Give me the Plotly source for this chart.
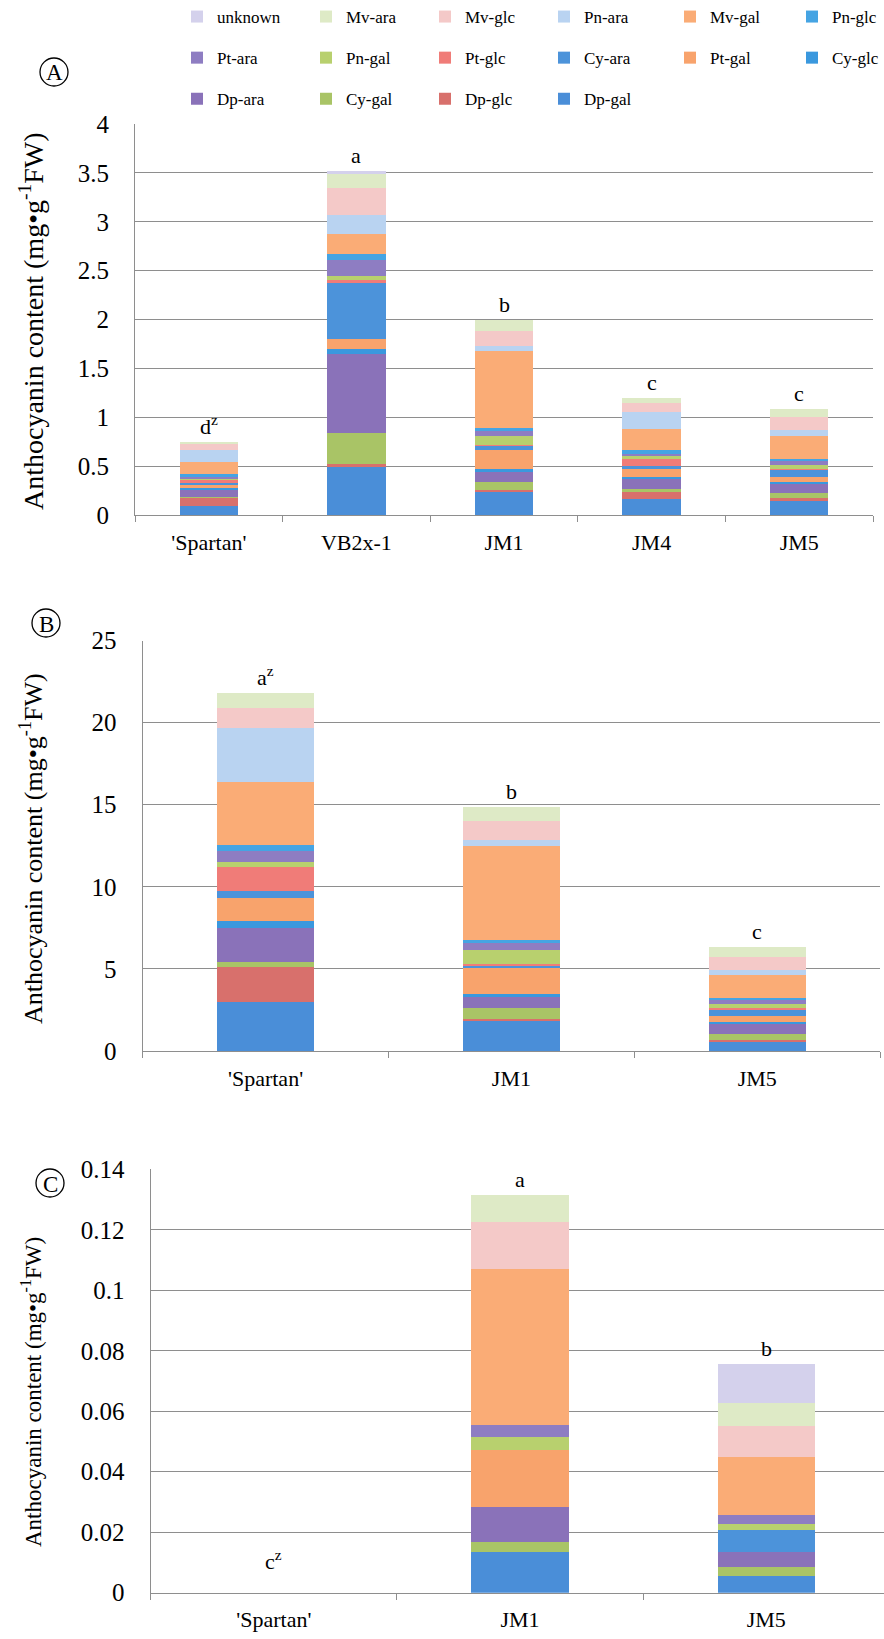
import plotly.graph_objects as go

# ---------------- data ----------------
series = ["Dp-gal", "Dp-glc", "Cy-gal", "Dp-ara", "Cy-glc", "Pt-gal", "Cy-ara", "Pt-glc",
          "Pn-gal", "Pt-ara", "Pn-glc", "Mv-gal", "Pn-ara", "Mv-glc", "Mv-ara", "unknown"]
colors = ["#4A8ED8", "#D8706C", "#A9C466", "#8A72B9", "#3A98DE", "#F8A36C", "#4C93DA", "#F07C78",
          "#B8D06E", "#8E7DC2", "#45A4E3", "#FAAC76", "#B9D3F1", "#F4C9C8", "#DEEAC6", "#D4D1EC"]

cats_A = ["'Spartan'", "VB2x-1", "JM1", "JM4", "JM5"]
vals_A = {
    "Dp-gal":  [0.092, 0.500, 0.239, 0.160, 0.147],
    "Dp-glc":  [0.085, 0.020, 0.017, 0.078, 0.024],
    "Cy-gal":  [0.005, 0.320, 0.085, 0.024, 0.051],
    "Dp-ara":  [0.075, 0.810, 0.102, 0.109, 0.095],
    "Cy-glc":  [0.020, 0.050, 0.024, 0.020, 0.024],
    "Pt-gal":  [0.034, 0.100, 0.198, 0.075, 0.051],
    "Cy-ara":  [0.017, 0.570, 0.044, 0.034, 0.075],
    "Pt-glc":  [0.037, 0.034, 0.005, 0.082, 0.005],
    "Pn-gal":  [0.005, 0.044, 0.099, 0.020, 0.038],
    "Pt-ara":  [0.027, 0.160, 0.044, 0.027, 0.041],
    "Pn-glc":  [0.020, 0.060, 0.034, 0.034, 0.027],
    "Mv-gal":  [0.126, 0.205, 0.784, 0.220, 0.228],
    "Pn-ara":  [0.120, 0.198, 0.058, 0.170, 0.061],
    "Mv-glc":  [0.068, 0.270, 0.146, 0.092, 0.136],
    "Mv-ara":  [0.012, 0.147, 0.120, 0.055, 0.085],
    "unknown": [0.000, 0.027, 0.000, 0.000, 0.000],
}
letters_A = ["d<sup>z</sup>", "a", "b", "c", "c"]

cats_B = ["'Spartan'", "JM1", "JM5"]
vals_B = {
    "Dp-gal":  [3.01, 1.89, 0.61],
    "Dp-glc":  [2.13, 0.06, 0.06],
    "Cy-gal":  [0.30, 0.65, 0.35],
    "Dp-ara":  [2.07, 0.71, 0.67],
    "Cy-glc":  [0.41, 0.14, 0.10],
    "Pt-gal":  [1.38, 1.58, 0.37],
    "Cy-ara":  [0.45, 0.20, 0.41],
    "Pt-glc":  [1.48, 0.05, 0.04],
    "Pn-gal":  [0.30, 0.87, 0.24],
    "Pt-ara":  [0.65, 0.45, 0.24],
    "Pn-glc":  [0.37, 0.16, 0.16],
    "Mv-gal":  [3.86, 5.73, 1.38],
    "Pn-ara":  [3.25, 0.37, 0.30],
    "Mv-glc":  [1.22, 1.12, 0.77],
    "Mv-ara":  [0.91, 0.85, 0.61],
    "unknown": [0.00, 0.00, 0.00],
}
letters_B = ["a<sup>z</sup>", "b", "c"]

cats_C = ["'Spartan'", "JM1", "JM5"]
vals_C = {
    "Dp-gal":  [0.0, 0.0133, 0.0055],
    "Dp-glc":  [0.0, 0.0000, 0.0000],
    "Cy-gal":  [0.0, 0.0035, 0.0031],
    "Dp-ara":  [0.0, 0.0116, 0.0050],
    "Cy-glc":  [0.0, 0.0000, 0.0000],
    "Pt-gal":  [0.0, 0.0187, 0.0000],
    "Cy-ara":  [0.0, 0.0000, 0.0072],
    "Pt-glc":  [0.0, 0.0000, 0.0000],
    "Pn-gal":  [0.0, 0.0044, 0.0020],
    "Pt-ara":  [0.0, 0.0039, 0.0030],
    "Pn-glc":  [0.0, 0.0000, 0.0000],
    "Mv-gal":  [0.0, 0.0518, 0.0191],
    "Pn-ara":  [0.0, 0.0000, 0.0000],
    "Mv-glc":  [0.0, 0.0154, 0.0103],
    "Mv-ara":  [0.0, 0.0090, 0.0075],
    "unknown": [0.0, 0.0000, 0.0129],
}
letters_C = ["c<sup>z</sup>", "a", "b"]

y_title = "Anthocyanin content (mg\u2022g<sup>-1</sup>FW)"
panel_labels = ["A", "B", "C"]

# legend layout: columns (top to bottom)
legend_columns = [
    ["unknown", "Pt-ara", "Dp-ara"],
    ["Mv-ara", "Pn-gal", "Cy-gal"],
    ["Mv-glc", "Pt-glc", "Dp-glc"],
    ["Pn-ara", "Cy-ara", "Dp-gal"],
    ["Mv-gal", "Pt-gal"],
    ["Pn-glc", "Cy-glc"],
]

# ---------------- geometry helpers ----------------
W, H = 884, 1639
FONT = "Liberation Serif"
GRID = "#8e8e8e"


def fx(px):
    return px / W


def fy(py):
    return 1 - py / H


col_of = {}
rank_of = {}
for ci, col in enumerate(legend_columns):
    for ri, name in enumerate(col):
        col_of[name] = ci
        rank_of[name] = ri * 10 + ci


def legend_id(ci):
    return "legend" if ci == 0 else "legend%d" % (ci + 1)


panels = [
    dict(cats=cats_A, vals=vals_A, letters=letters_A, xa="x", ya="y"),
    dict(cats=cats_B, vals=vals_B, letters=letters_B, xa="x2", ya="y2"),
    dict(cats=cats_C, vals=vals_C, letters=letters_C, xa="x3", ya="y3"),
]

fig = go.Figure()
for pi, p in enumerate(panels):
    for s, c in zip(series, colors):
        fig.add_trace(go.Bar(
            x=p["cats"], y=p["vals"][s], name=s,
            marker=dict(color=c, line=dict(width=0)),
            xaxis=p["xa"], yaxis=p["ya"],
            showlegend=(pi == 0), legendgroup=s,
            legend=legend_id(col_of[s]), legendrank=rank_of[s],
        ))
    totals = [sum(p["vals"][s][i] for s in series) for i in range(len(p["cats"]))]
    for cat, tot, lab in zip(p["cats"], totals, p["letters"]):
        fig.add_annotation(x=cat, y=tot, xref=p["xa"], yref=p["ya"], text=lab,
                           showarrow=False, xanchor="center", yanchor="bottom",
                           yshift=(17 if tot == 0 else 1),
                           font=dict(family=FONT, size=22, color="black"))

# axes
xtickfont = dict(family=FONT, size=22, color="black")
ytickfont = dict(family=FONT, size=25, color="black")
xcommon = dict(type="category", showline=True, linecolor=GRID, linewidth=1.2,
               ticks="outside", tickson="boundaries", ticklen=6, tickcolor=GRID,
               showgrid=False, tickfont=xtickfont, ticklabelstandoff=7, fixedrange=True)
ycommon = dict(showline=True, linecolor=GRID, linewidth=1.2, showgrid=True,
               gridcolor=GRID, gridwidth=1.2, zeroline=False, ticks="outside",
               ticklen=20, tickcolor="rgba(0,0,0,0)",
               tickfont=ytickfont, fixedrange=True)

fig.update_layout(
    xaxis=dict(domain=[fx(135), fx(873)], anchor="y", range=[-0.5, 4.5], **xcommon),
    yaxis=dict(domain=[fy(515), fy(124)], anchor="x", range=[0, 4], dtick=0.5, **ycommon),
    xaxis2=dict(domain=[fx(142.6), fx(880.2)], anchor="y2", range=[-0.5, 2.5], **xcommon),
    yaxis2=dict(domain=[fy(1051), fy(640.5)], anchor="x2", range=[0, 25], dtick=5, **ycommon),
    xaxis3=dict(domain=[fx(150.7), 1.0], anchor="y3", range=[-0.5, 2.4785], **xcommon),
    yaxis3=dict(domain=[fy(1592.7), fy(1169.3)], anchor="x3", range=[0, 0.14], dtick=0.02,
                **ycommon),
)

# y titles (centre in px, font size)
y_titles = [(321, 28), (849, 26), (1392, 23)]
for cy, fs in y_titles:
    fig.add_annotation(x=fx(31), y=fy(cy), xref="paper", yref="paper",
                       text=y_title, textangle=-90, showarrow=False,
                       xanchor="center", yanchor="middle",
                       font=dict(family=FONT, size=fs, color="black"))

# circled panel letters
circles = {"A": (54, 72), "B": (46, 623), "C": (50, 1183)}
R = 14
for key, (cx, cy) in circles.items():
    fig.add_shape(type="circle", xref="paper", yref="paper",
                  x0=fx(cx - R), x1=fx(cx + R), y0=fy(cy + R), y1=fy(cy - R),
                  line=dict(color="black", width=1.3))
    fig.add_annotation(x=fx(cx), y=fy(cy + 1), xref="paper", yref="paper", text=key,
                       showarrow=False, xanchor="center", yanchor="middle",
                       font=dict(family=FONT, size=23, color="black"))

# legends
legend_x = [177, 306, 425, 544, 670, 792]
leg_common = dict(orientation="v", yanchor="top", xanchor="left",
                  font=dict(family=FONT, size=17, color="black"),
                  bgcolor="rgba(0,0,0,0)", tracegroupgap=16, itemclick=False,
                  itemdoubleclick=False)
legend_layout = {}
for ci, lx in enumerate(legend_x):
    legend_layout[legend_id(ci)] = dict(x=fx(lx), y=fy(-1), **leg_common)
fig.update_layout(**legend_layout)

fig.update_layout(
    width=W, height=H, barmode="stack", bargap=0.605,
    margin=dict(l=0, r=0, t=0, b=0, autoexpand=False),
    paper_bgcolor="white", plot_bgcolor="white",
    font=dict(family=FONT, color="black"),
)

fig.write_html("out.html", config={"displayModeBar": False},
               post_script="document.body.style.margin='0';")
